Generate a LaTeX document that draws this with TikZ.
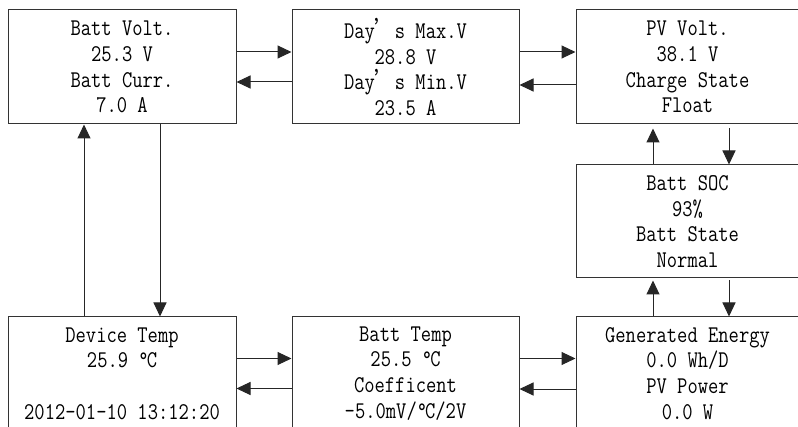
\documentclass[tikz,border=0pt]{standalone}
\usepackage{fontspec}
\usepackage{graphicx}
\newfontfamily\cjk{Noto Sans CJK SC}
\usetikzlibrary{arrows.meta}
\newcommand\tl[1]{\scalebox{1}[1.2]{#1}}
\newcommand\dgc{\textdegree\kern-2pt C}
\newcommand\apos{{\cjk ’}}
\tikzset{
  box/.style={draw=black!80, line width=1pt, inner sep=0pt, align=center,
    font=\ttfamily\fontsize{20}{25.7}\selectfont},
  arr/.style={draw=black!85, line width=1pt, -{Triangle[length=14pt,width=13pt]}},
}
\begin{document}
\begin{tikzpicture}[x=1pt,y=1pt]
\useasboundingbox (0,0) rectangle (798,426);
\clip (0,0) rectangle (798,426);
% top row
\node[box, minimum width=228pt, minimum height=114pt] (b1) at (122,359)
  {\tl{Batt Volt.}\\\tl{25.3 V}\\\tl{Batt Curr.}\\\tl{7.0 A}};
\node[box, minimum width=227pt, minimum height=114pt] (b2) at (405.5,359)
  {\tl{Day\apos s Max.V}\\\tl{28.8 V}\\\tl{Day\apos s Min.V}\\\tl{23.5 A}};
\node[box, minimum width=223pt, minimum height=114pt] (pv) at (687.5,359)
  {\tl{PV Volt.}\\\tl{38.1 V}\\\tl{Charge State}\\\tl{Float}};
% middle right
\node[box, minimum width=223pt, minimum height=113pt] (soc) at (687.5,204.5)
  {\tl{Batt SOC}\\\tl{93\%}\\\tl{Batt State}\\\tl{Normal}};
% bottom row
\node[box, minimum width=228pt, minimum height=113pt] (dev) at (122,52.5)
  {\tl{Device Temp}\\\tl{25.9 \dgc}\\\tl{\strut}\\\tl{2012-01-10 13:12:20}};
\node[box, minimum width=227pt, minimum height=113pt] (bt) at (405.5,52.5)
  {\tl{Batt Temp}\\\tl{25.5 \dgc}\\\tl{Coefficent}\\\tl{-5.0mV/\dgc/2V}};
\node[box, minimum width=223pt, minimum height=113pt] (gen) at (687.5,52.5)
  {\tl{Generated Energy}\\\tl{0.0 Wh/D}\\\tl{PV Power}\\\tl{0.0 W}};
% horizontal arrows, top
\draw[arr] ([yshift=15pt]b1.east) -- ([yshift=15pt]b2.west);
\draw[arr] ([yshift=-15pt]b2.west) -- ([yshift=-15pt]b1.east);
\draw[arr] ([yshift=15pt]b2.east) -- ([yshift=15pt]pv.west);
\draw[arr] ([yshift=-18pt]pv.west) -- ([yshift=-18pt]b2.east);
% horizontal arrows, bottom
\draw[arr] ([yshift=15pt]dev.east) -- ([yshift=15pt]bt.west);
\draw[arr] ([yshift=-15pt]bt.west) -- ([yshift=-15pt]dev.east);
\draw[arr] ([yshift=15pt]bt.east) -- ([yshift=15pt]gen.west);
\draw[arr] ([yshift=-15.5pt]gen.west) -- ([yshift=-15.5pt]bt.east);
% vertical arrows, left
\draw[arr] ([xshift=-38pt]dev.north) -- ([xshift=-38pt]b1.south);
\draw[arr] ([xshift=38pt]b1.south) -- ([xshift=38pt]dev.north);
% vertical arrows, right
\draw[arr, shorten >=4pt] ([xshift=-34.5pt]soc.north) -- ([xshift=-34.5pt]pv.south);
\draw[arr, shorten <=4pt] ([xshift=41.5pt]pv.south) -- ([xshift=41.5pt]soc.north);
\draw[arr, shorten >=2pt] ([xshift=-34.5pt]gen.north) -- ([xshift=-34.5pt]soc.south);
\draw[arr, shorten <=2pt] ([xshift=41.5pt]soc.south) -- ([xshift=41.5pt]gen.north);
\end{tikzpicture}
\end{document}
